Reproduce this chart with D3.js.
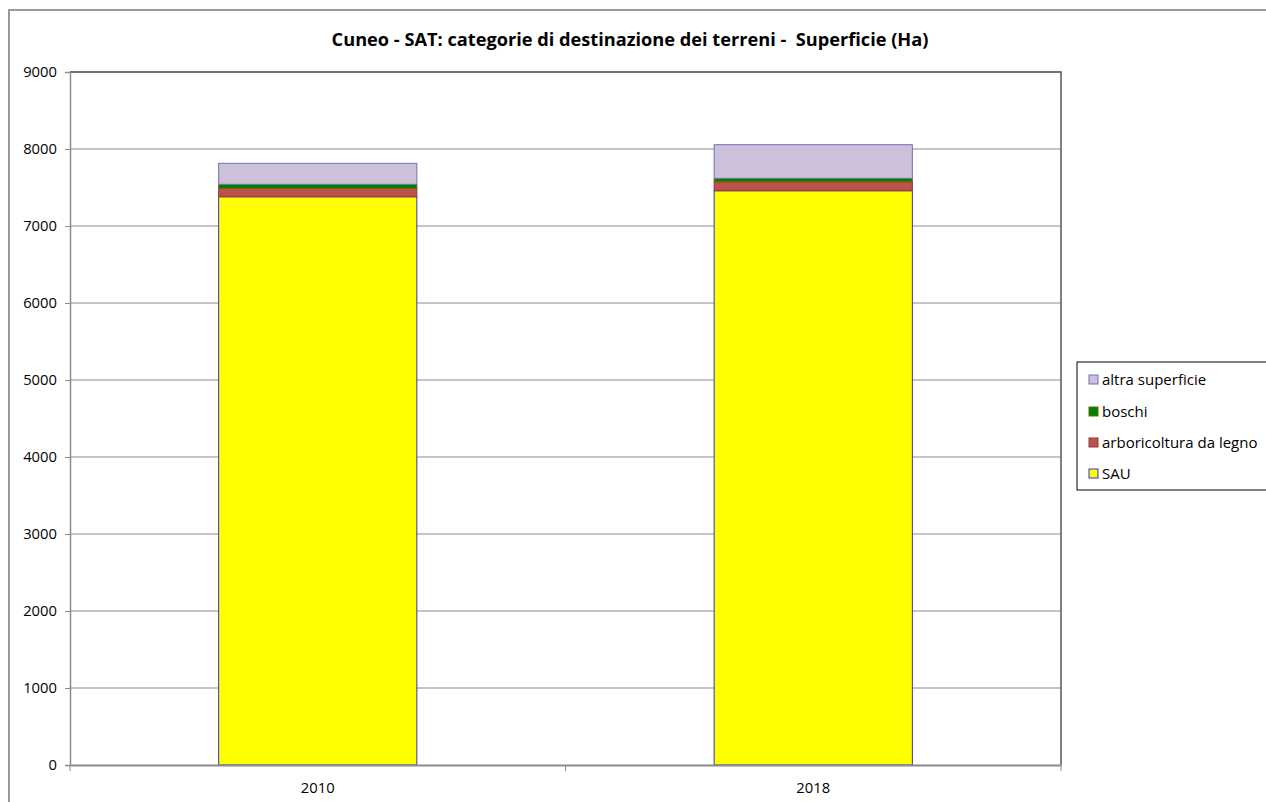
<!DOCTYPE html>
<html><head><meta charset="utf-8">
<script src="https://cdn.jsdelivr.net/npm/d3@7"></script>
<style>body{margin:0;background:#fff}svg{display:block;font-family:"Open Sans",sans-serif}text{white-space:pre}</style>
</head><body><svg id="c" width="1266" height="802"></svg>
<script>
const categories = ["2010", "2018"];
const seriesNames = ["SAU", "arboricoltura da legno", "boschi", "altra superficie"];
const SAU = [7380, 7458];
const arboricoltura = [109, 117];
const boschi = [52, 44];
const altra = [273, 437];
const yTicks = [0,1000,2000,3000,4000,5000,6000,7000,8000,9000];
const title = "Cuneo - SAT: categorie di destinazione dei terreni -  Superficie (Ha)";

const fills = ["#ffff00", "#c0504d", "#008000", "#ccc0da"];
const strokes = ["#3333cc", "#8b3a3a", "#6b6b00", "#7070b0"];
const FONT = "'Open Sans',sans-serif";

const svg = d3.select("#c");
svg.append("rect").attr("x",9).attr("y",10).attr("width",1300).attr("height",900)
  .attr("fill","none").attr("stroke","#9a9a9a").attr("stroke-width",2);

const m = {left:70, right:1061, top:72, bottom:765};
const x = d3.scaleBand().domain(categories).range([m.left, m.right]).paddingInner(0.6).paddingOuter(0.3);
const y = d3.scaleLinear().domain([0,9000]).range([m.bottom, m.top]);

svg.append("g").selectAll("line").data(yTicks.filter(d=>d>0)).join("line")
  .attr("x1",m.left).attr("x2",m.right).attr("y1",d=>y(d)).attr("y2",d=>y(d))
  .attr("stroke","#8c8c8c").attr("stroke-width",1);

const rows = categories.map((c,i)=>({cat:c, SAU:SAU[i], "arboricoltura da legno":arboricoltura[i], boschi:boschi[i], "altra superficie":altra[i]}));
const stacked = d3.stack().keys(seriesNames)(rows);
svg.append("g").selectAll("g").data(stacked).join("g")
  .attr("fill",(d,i)=>fills[i]).attr("stroke",(d,i)=>strokes[i]).attr("stroke-width",1)
  .selectAll("rect").data(d=>d).join("rect")
  .attr("x",d=>x(d.data.cat)).attr("width",x.bandwidth())
  .attr("y",d=>y(d[1])).attr("height",d=>y(d[0])-y(d[1]));

svg.append("path").attr("d",`M${m.left},${m.top}H${m.right}V${m.bottom}`)
  .attr("fill","none").attr("stroke","#555").attr("stroke-width",1.5);

const ya = svg.append("g").attr("transform",`translate(${m.left},0)`)
  .call(d3.axisLeft(y).tickValues(yTicks).tickSize(5).tickPadding(8).tickFormat(d3.format("d")));
ya.select(".domain").attr("stroke","#8c8c8c").attr("stroke-width",1.5);
ya.selectAll(".tick line").attr("stroke","#8c8c8c");
ya.selectAll("text").attr("font-size",14.8).attr("fill","#000").attr("font-family",FONT);

const xa = svg.append("g").attr("transform",`translate(0,${m.bottom})`)
  .call(d3.axisBottom(x).tickSize(0).tickPadding(17));
xa.select(".domain").attr("stroke","#8c8c8c").attr("stroke-width",2);
xa.selectAll("text").attr("font-size",14.8).attr("fill","#000").attr("font-family",FONT);
const bounds = [m.left, (m.left+m.right)/2, m.right];
svg.append("g").selectAll("line").data(bounds).join("line")
  .attr("x1",d=>d).attr("x2",d=>d).attr("y1",m.bottom).attr("y2",m.bottom+6)
  .attr("stroke","#8c8c8c");

svg.append("text").attr("x",630).attr("y",46).attr("text-anchor","middle")
  .attr("font-size",18.2).attr("font-weight","bold").attr("font-family",FONT).text(title);

const lg = svg.append("g");
lg.append("rect").attr("x",1077).attr("y",362).attr("width",200).attr("height",128)
  .attr("fill","#fff").attr("stroke","#000").attr("stroke-width",1);
const legendOrder = [3,2,1,0];
const ly = [380, 412, 443, 474];
legendOrder.forEach((si,k)=>{
  lg.append("rect").attr("x",1089).attr("y",ly[k]-5).attr("width",9).attr("height",9)
    .attr("fill",fills[si]).attr("stroke",strokes[si]);
  lg.append("text").attr("x",1102).attr("y",ly[k]).attr("dy","0.35em")
    .attr("font-size",15).attr("font-family",FONT).text(seriesNames[si]);
});
</script></body></html>
